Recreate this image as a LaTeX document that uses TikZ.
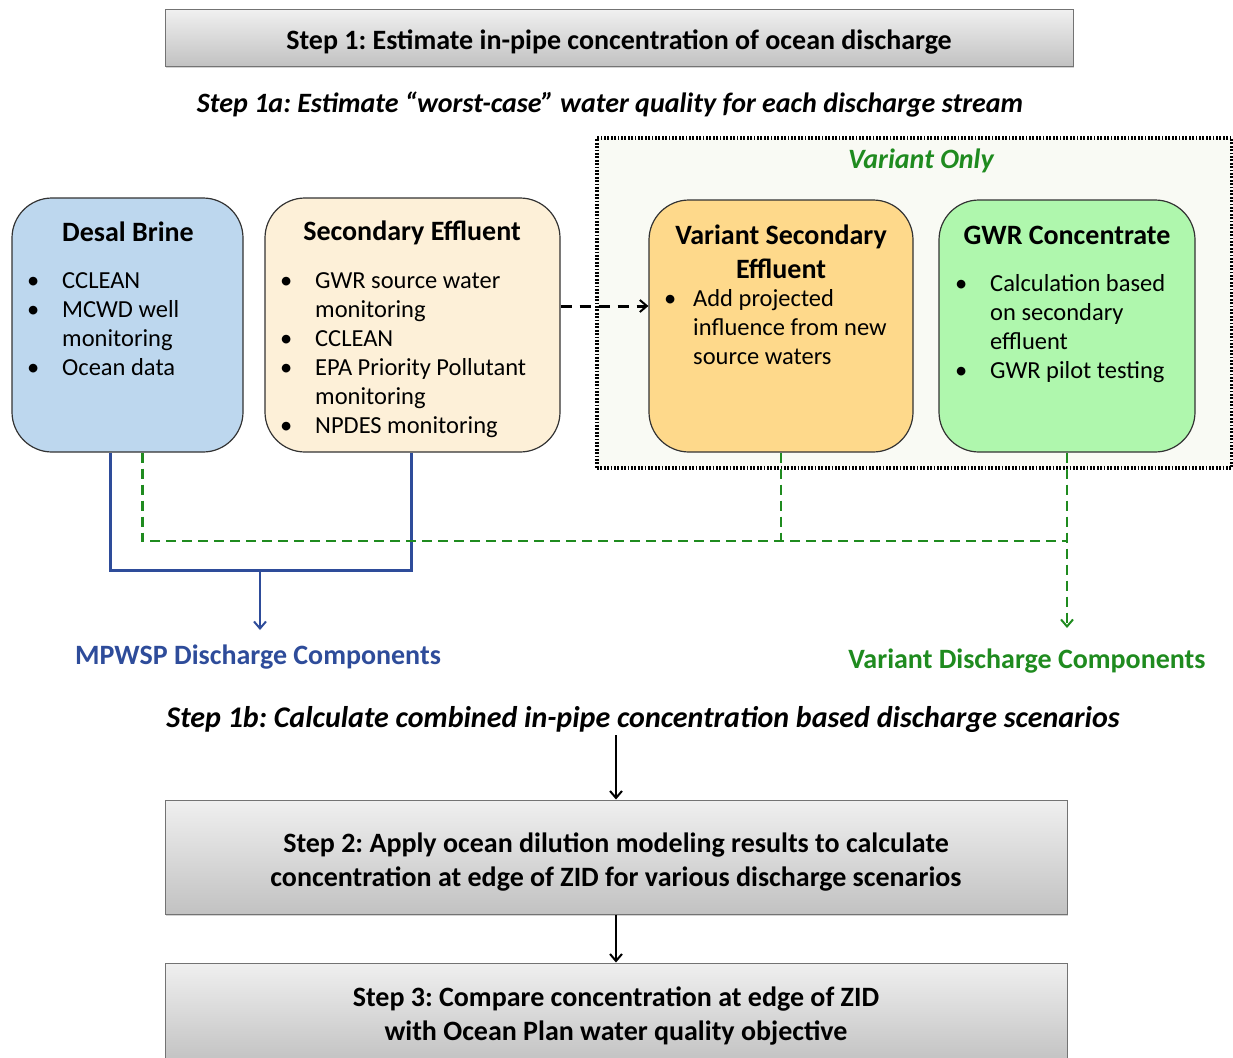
\documentclass[tikz,border=0pt]{standalone}
\usepackage{fontspec}
\setmainfont{Carlito}
\usetikzlibrary{arrows.meta,calc,shadows}
\definecolor{bluefill}{HTML}{BDD7EE}
\definecolor{creamfill}{HTML}{FDF0D8}
\definecolor{orangefill}{HTML}{FED98B}
\definecolor{greenfill}{HTML}{AFF7AD}
\definecolor{navy}{HTML}{2E4C9A}
\definecolor{dgreen}{HTML}{1F8B1F}
\definecolor{panelfill}{HTML}{F9FAF4}
\frenchspacing
\newcommand{\lowerby}[2]{\raisebox{-#1}[\height][\depth]{#2}}
\begin{document}
\begin{tikzpicture}[x=1pt,y=-1pt,
  stepbox/.style={draw=black!55, line width=1pt, top color=black!6, bottom color=black!24,
    drop shadow={shadow xshift=1pt, shadow yshift=-2pt, opacity=0.35},
    font=\fontsize{28}{34}\selectfont\bfseries, align=center, inner sep=0pt},
  colbox/.style={draw=black!80, line width=1.2pt, rounded corners=40pt, inner sep=0pt},
  head/.style={font=\fontsize{28}{34}\selectfont\bfseries, align=center, inner sep=0pt},
  bullets/.style={anchor=north west, inner sep=0pt, font=\fontsize{24.5}{29}\selectfont},
  subhead/.style={font=\fontsize{28}{32}\selectfont\bfseries\itshape, inner sep=0pt},
  bline/.style={draw=navy, line width=3pt},
  gline/.style={draw=dgreen, line width=2.8pt, dash pattern=on 10pt off 6pt},
  tip/.style={-{Straight Barb[length=7pt,width=12pt,line width=2pt]}}
]
\useasboundingbox (0,0) rectangle (1233,1057);

% Step 1
\node[stepbox, minimum width=908pt, minimum height=56pt] (step1) at (619,38)
  {\lowerby{4pt}{Step 1: Estimate in-pipe concentration of ocean discharge}};
\node[subhead] (step1a) at (610,105)
  {Step 1a: Estimate “worst-case” water quality for each discharge stream};

% Variant panel
\node[draw=black, fill=panelfill, line width=3.2pt, dash pattern=on 1.8pt off 1.6pt,
  minimum width=635pt, minimum height=330pt, inner sep=0pt] (panel) at (914.5,303) {};
\node[subhead, text=dgreen] (vonly) at (921,161) {Variant Only};

% Coloured boxes
\node[colbox, fill=bluefill, minimum width=231pt, minimum height=254pt] (desal) at (127.5,325) {};
\node[colbox, fill=creamfill, minimum width=295pt, minimum height=254pt] (sec) at (412.5,325) {};
\node[colbox, fill=orangefill, minimum width=264pt, minimum height=252pt] (var) at (781,326) {};
\node[colbox, fill=greenfill, minimum width=256pt, minimum height=252pt] (gwr) at (1067,326) {};

\node[head] (desalT) at (128,232) {Desal Brine};
\node[bullets] (desalL) at (27,268) {\begin{tabular}{@{}p{35pt}@{}l@{}}
•& CCLEAN\\ •& MCWD well\\ & monitoring\\ •& Ocean data\end{tabular}};

\node[head] (secT) at (412,233) {Secondary Effluent};
\node[bullets] (secL) at (280,268) {\begin{tabular}{@{}p{35pt}@{}l@{}}
•& GWR source water\\ & monitoring\\ •& CCLEAN\\ •& EPA Priority Pollutant\\ & monitoring\\ •& NPDES monitoring\end{tabular}};

\node[head] (varT) at (781,252) {Variant Secondary\\Effluent};
\node[bullets] (varL) at (664,286) {\begin{tabular}{@{}p{29pt}@{}l@{}}
•& Add projected\\ & influence from new\\ & source waters\end{tabular}};

\node[head] (gwrT) at (1067,235) {GWR Concentrate};
\node[bullets] (gwrL) at (955,271) {\begin{tabular}{@{}p{35pt}@{}l@{}}
•& Calculation based\\ & on secondary\\ & effluent\\ •& GWR pilot testing\end{tabular}};

% dashed black arrow
\draw[tip, line width=3pt, dash pattern=on 11pt off 8pt]
  ($(sec.east)+(0,-19)$) -- ($(var.west)+(0,-20)$);

% labels
\node[font=\fontsize{28}{32}\selectfont\bfseries, text=navy, inner sep=0pt] (mpwsp) at (258,657)
  {MPWSP Discharge Components};
\node[font=\fontsize{28}{32}\selectfont\bfseries, text=dgreen, inner sep=0pt] (vdc) at (1027,661)
  {Variant Discharge Components};

% blue connectors
\coordinate (bjoin) at (260,570);
\coordinate (btip) at (260,630);
\draw[bline] ($(desal.south west)+(99,0)$) -- ++(0,118) -| ($(sec.south west)+(147,0)$);
\draw[bline, tip, line width=2.2pt] (bjoin) -- (btip);

% green connectors
\coordinate (gjoin) at (1067,541);
\coordinate (gtip) at (1067,628);
\draw[gline] ($(desal.south west)+(131,0)$) |- (gjoin);
\draw[gline] (var.south) -- (var.south |- gjoin);
\draw[gline, tip, line width=2.4pt] (gwr.south) -- (gtip);

% Step 1b
\node[subhead, font=\fontsize{30}{34}\selectfont\bfseries\itshape] (step1b) at (643,719)
  {Step 1b: Calculate combined in-pipe concentration based discharge scenarios};

% Steps 2 and 3
\node[stepbox, minimum width=902pt, minimum height=114pt] (step2) at (616,857)
  {\lowerby{6pt}{\begin{tabular}{@{}c@{}}Step 2: Apply ocean dilution modeling results to calculate\\concentration at edge of ZID for various discharge scenarios\end{tabular}}};
\node[stepbox, minimum width=902pt, minimum height=100pt] (step3) at (616,1013)
  {\lowerby{4pt}{\begin{tabular}{@{}c@{}}Step 3: Compare concentration at edge of ZID\\with Ocean Plan water quality objective\end{tabular}}};

\draw[tip, line width=2.5pt] ($(step1b.south -| step2.north)+(0,3)$) -- (step2.north);
\draw[tip, line width=2.5pt] (step2.south) -- (step3.north);
\end{tikzpicture}
\end{document}
